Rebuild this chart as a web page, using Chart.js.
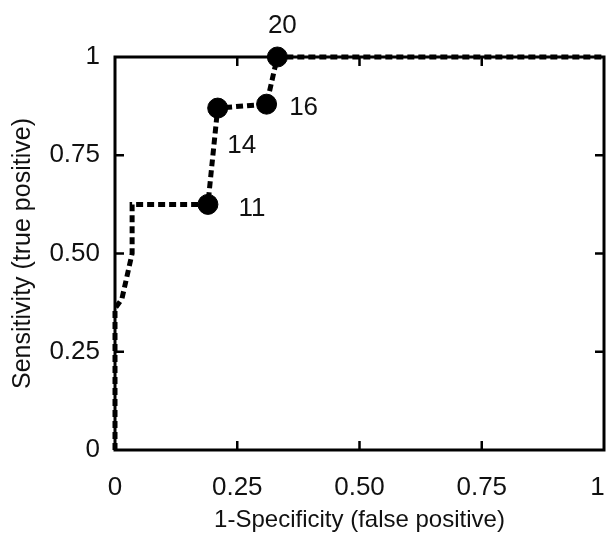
<!DOCTYPE html>
<html>
<head>
<meta charset="utf-8">
<script src="https://cdn.jsdelivr.net/npm/chart.js@4"></script>
<style>
  html, body { margin: 0; padding: 0; background: #fff; }
  #wrap { width: 608px; height: 538px; }
</style>
</head>
<body>
<div id="wrap"><canvas id="chart" width="608" height="538"></canvas></div>
<script>
// ROC curve points (1-specificity, sensitivity) and cutoff labels
var fpr = [0, 0, 0.014, 0.035, 0.035, 0.19, 0.21, 0.31, 0.332, 1];
var tpr = [0, 0.36, 0.384, 0.5, 0.625, 0.625, 0.87, 0.88, 1, 1];
var cutoffs = ['', '', '', '', '', '11', '14', '16', '20', ''];

var tickValues = [0, 0.25, 0.5, 0.75, 1];
var xTickLabels = ['0', '0.25', '0.50', '0.75', '1\u2002'];
var yTickLabels = ['0', '0.25', '0.50', '0.75', '1'];

var FONT = 'Arial, "Liberation Sans", sans-serif';

var points = fpr.map(function (x, i) { return { x: x, y: tpr[i] }; });

// frame with inward tick marks, plus cutoff labels next to markers
var framePlugin = {
    id: 'frame',
    beforeDatasetsDraw: function (chart) {
        var ctx = chart.ctx, a = chart.chartArea;
        var xs = chart.scales.x, ys = chart.scales.y;
        ctx.save();
        ctx.strokeStyle = '#000';
        ctx.lineWidth = 3;
        ctx.strokeRect(a.left, a.top, a.right - a.left, a.bottom - a.top);
        ctx.lineWidth = 2.5;
        var len = 9;
        tickValues.slice(1, -1).forEach(function (v) {
            var px = xs.getPixelForValue(v);
            var py = ys.getPixelForValue(v);
            ctx.beginPath();
            ctx.moveTo(px, a.bottom); ctx.lineTo(px, a.bottom - len);
            ctx.moveTo(px, a.top); ctx.lineTo(px, a.top + len);
            ctx.moveTo(a.left, py); ctx.lineTo(a.left + len, py);
            ctx.moveTo(a.right, py); ctx.lineTo(a.right - len, py);
            ctx.stroke();
        });
        ctx.restore();
    },
    afterDatasetsDraw: function (chart) {
        var ctx = chart.ctx;
        var meta = chart.getDatasetMeta(0);
        var offsets = { '11': [44, 4], '14': [24, 38], '16': [37, 4], '20': [5, -31] };
        ctx.save();
        ctx.fillStyle = '#111';
        ctx.font = '26px ' + FONT;
        ctx.textAlign = 'center';
        ctx.textBaseline = 'middle';
        cutoffs.forEach(function (lab, i) {
            if (!lab) return;
            var el = meta.data[i];
            var off = offsets[lab] || [20, 0];
            ctx.fillText(lab, el.x + off[0], el.y + off[1]);
        });
        ctx.restore();
    }
};

var ctx = document.getElementById('chart').getContext('2d');
new Chart(ctx, {
    type: 'scatter',
    data: {
        datasets: [{
            data: points,
            showLine: true,
            borderColor: '#000',
            borderWidth: 5,
            borderDash: [7, 4],
            borderCapStyle: 'butt',
            backgroundColor: '#000',
            pointBackgroundColor: '#000',
            pointBorderColor: '#000',
            pointBorderWidth: 1,
            pointRadius: function (c) { return cutoffs[c.dataIndex] ? 10 : 0; },
            pointHoverRadius: function (c) { return cutoffs[c.dataIndex] ? 10 : 0; },
            clip: false
        }]
    },
    options: {
        responsive: false,
        animation: false,
        events: [],
        layout: {
            autoPadding: false,
            padding: { left: 0, right: 4, top: 57, bottom: 0 }
        },
        plugins: {
            legend: { display: false },
            tooltip: { enabled: false }
        },
        scales: {
            x: {
                type: 'linear',
                min: 0, max: 1,
                grid: { display: false },
                border: { display: false },
                afterBuildTicks: function (s) { s.ticks = tickValues.map(function (v) { return { value: v }; }); },
                afterFit: function (s) { s.height = 88; s.paddingLeft = 0; s.paddingRight = 0; },
                ticks: {
                    padding: 14,
                    color: '#111',
                    font: { family: FONT, size: 26 },
                    maxRotation: 0,
                    callback: function (v) { return xTickLabels[tickValues.indexOf(v)]; }
                },
                title: {
                    display: true,
                    text: '1-Specificity (false positive)',
                    color: '#111',
                    font: { family: FONT, size: 24 },
                    padding: { top: 0, bottom: 3 }
                }
            },
            y: {
                type: 'linear',
                min: 0, max: 1,
                grid: { display: false },
                border: { display: false },
                afterBuildTicks: function (s) { s.ticks = tickValues.map(function (v) { return { value: v }; }); },
                afterFit: function (s) { s.width = 115; s.paddingTop = 0; s.paddingBottom = 0; },
                ticks: {
                    padding: 7,
                    color: '#111',
                    font: { family: FONT, size: 26 },
                    callback: function (v) { return yTickLabels[tickValues.indexOf(v)]; }
                },
                title: {
                    display: true,
                    text: 'Sensitivity (true positive)',
                    color: '#111',
                    font: { family: FONT, size: 25 },
                    padding: { top: 8, bottom: 0 }
                }
            }
        }
    },
    plugins: [framePlugin]
});
</script>
</body>
</html>
